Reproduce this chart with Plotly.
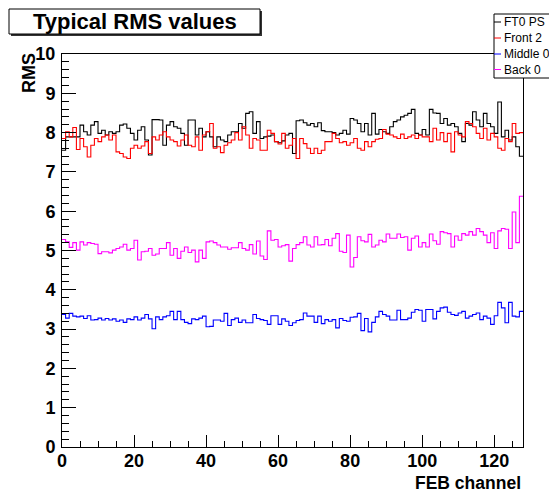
import plotly.graph_objects as go

# ---------------- data ----------------
series_names = ["FT0 PS", "Front 2", "Middle 0", "Back 0"]
series_colors = ["#000000", "#ff0000", "#0000ff", "#ff00ff"]

ft0_ps = [7.55, 7.89, 7.89, 7.89, 7.89, 8.19, 8.02, 7.94, 8.19, 8.28,
          7.98, 8.06, 7.94, 8.02, 7.98, 8.02, 8.19, 8.22, 8.11, 7.98,
          7.81, 8.06, 8.15, 7.81, 7.43, 8.33, 8.33, 8.32, 7.68, 8.19,
          8.28, 8.15, 8.11, 7.98, 7.68, 8.32, 8.32, 7.94, 8.11, 7.89,
          8.02, 7.89, 7.64, 7.89, 7.81, 7.77, 7.94, 8.02, 8.02, 8.23,
          8.11, 8.49, 8.53, 7.98, 8.28, 7.85, 7.89, 7.91, 7.94, 7.77,
          7.74, 7.79, 7.94, 7.98, 7.47, 8.30, 8.32, 8.25, 8.19, 8.23,
          8.15, 8.25, 8.05, 8.02, 8.02, 8.00, 7.94, 7.98, 8.06, 7.96,
          8.36, 8.32, 8.23, 8.02, 8.23, 7.94, 8.49, 7.96, 8.08, 8.02,
          7.98, 8.15, 8.28, 8.32, 8.40, 8.44, 8.49, 8.59, 7.98, 7.94,
          8.08, 7.94, 8.59, 8.50, 8.49, 8.23, 8.36, 8.19, 8.23, 8.15,
          7.98, 7.77, 8.23, 8.19, 8.53, 8.32, 8.15, 8.49, 8.23, 8.15,
          7.98, 8.78, 7.89, 8.06, 7.81, 7.89, 7.64, 7.40]

front_2 = [7.85, 8.02, 7.89, 8.13, 7.57, 7.85, 7.64, 7.38, 7.68, 7.85,
           7.77, 7.89, 7.94, 7.81, 7.94, 7.51, 7.47, 7.38, 7.34, 7.60,
           7.68, 7.60, 7.66, 7.77, 7.47, 7.89, 7.81, 7.94, 8.02, 7.89,
           7.81, 7.77, 7.66, 7.81, 7.94, 7.68, 7.64, 7.89, 7.55, 7.94,
           8.02, 8.23, 7.60, 7.64, 7.49, 7.68, 7.74, 7.81, 8.00, 7.81,
           8.15, 7.94, 7.60, 7.85, 7.81, 7.55, 7.55, 8.06, 7.98, 7.77,
           7.71, 7.98, 7.60, 7.68, 7.85, 7.34, 7.85, 7.72, 7.60, 7.47,
           7.60, 7.47, 7.55, 7.77, 7.77, 7.98, 7.85, 7.74, 7.77, 7.68,
           7.74, 7.85, 7.60, 7.55, 7.77, 7.64, 7.77, 7.83, 7.85, 8.08,
           7.96, 7.94, 7.89, 7.85, 7.96, 7.85, 7.89, 7.94, 7.85, 7.94,
           7.89, 7.89, 7.77, 8.11, 7.81, 8.00, 7.77, 7.98, 7.51, 8.02,
           7.94, 7.89, 8.28, 8.23, 8.15, 7.98, 7.85, 8.11, 7.81, 7.98,
           7.89, 7.60, 7.55, 7.85, 7.77, 8.23, 7.98, 8.00]

middle_0 = [3.37, 3.28, 3.40, 3.33, 3.31, 3.33, 3.27, 3.34, 3.23, 3.24,
            3.28, 3.23, 3.27, 3.23, 3.26, 3.20, 3.23, 3.17, 3.26, 3.24,
            3.31, 3.23, 3.28, 3.37, 3.26, 3.01, 3.31, 3.24, 3.31, 3.34,
            3.45, 3.24, 3.45, 3.24, 3.17, 3.14, 3.26, 3.24, 3.28, 3.33,
            3.06, 3.07, 3.23, 3.23, 3.20, 3.40, 3.09, 3.24, 3.28, 3.17,
            3.23, 3.16, 3.16, 3.37, 3.27, 3.24, 3.22, 3.12, 3.34, 3.34,
            3.12, 3.26, 3.20, 3.09, 3.16, 3.22, 3.24, 3.41, 3.33, 3.33,
            3.17, 3.33, 3.14, 3.24, 3.20, 3.24, 3.03, 3.27, 3.22, 3.20,
            3.30, 3.31, 3.40, 2.96, 3.27, 2.93, 3.17, 3.31, 3.45, 3.37,
            3.33, 3.23, 3.23, 3.48, 3.24, 3.24, 3.28, 3.43, 3.50, 3.48,
            3.20, 3.50, 3.50, 3.26, 3.45, 3.54, 3.56, 3.43, 3.37, 3.35,
            3.41, 3.45, 3.28, 3.33, 3.37, 3.41, 3.24, 3.33, 3.28, 3.12,
            3.34, 3.68, 3.54, 3.16, 3.68, 3.33, 3.31, 3.45]

back_0 = [5.28, 5.22, 5.08, 5.20, 5.01, 5.22, 5.14, 5.20, 5.18, 5.16,
          4.92, 4.97, 4.97, 4.94, 5.01, 5.05, 5.09, 5.16, 5.01, 5.05,
          5.26, 4.76, 4.97, 4.98, 5.05, 4.88, 4.91, 5.05, 5.05, 5.20,
          4.88, 5.05, 4.80, 4.98, 5.09, 4.95, 5.01, 4.71, 5.01, 4.80,
          5.22, 5.24, 5.20, 5.14, 5.09, 5.09, 5.03, 5.07, 5.07, 5.20,
          5.05, 5.01, 5.15, 4.91, 5.24, 4.86, 4.77, 5.50, 5.26, 5.28,
          5.09, 5.12, 5.15, 4.73, 5.05, 5.15, 5.20, 5.35, 5.14, 5.09,
          5.35, 5.14, 5.15, 5.28, 5.12, 5.31, 5.43, 4.98, 4.95, 5.39,
          4.58, 4.82, 5.35, 5.25, 5.22, 5.41, 5.09, 5.14, 5.26, 5.22,
          5.42, 5.31, 5.31, 5.42, 5.33, 5.35, 5.01, 5.31, 5.37, 5.09,
          5.20, 5.09, 5.42, 5.25, 5.16, 5.48, 5.45, 5.43, 5.09, 5.37,
          5.26, 5.43, 5.39, 5.48, 5.39, 5.56, 5.48, 5.39, 5.20, 5.45,
          5.05, 5.50, 5.56, 5.54, 5.05, 5.98, 5.20, 6.38]

series_values = [ft0_ps, front_2, middle_0, back_0]

x_ticks = [0, 20, 40, 60, 80, 100, 120]
y_ticks = list(range(0, 11))

title_text = "Typical RMS values"
x_title = "FEB channel"
y_title = "RMS"

n_bins = 128
bin_edges = list(range(n_bins + 1))

# ---------------- layout geometry (pixels) ----------------
W, H = 549, 493
L, R, T, B = 62, 523, 54, 447


def fx(px):
    return (px - L) / (R - L)


def fy(py):
    return (B - py) / (B - T)


FONT = "Liberation Sans, Arial, Helvetica, sans-serif"

fig = go.Figure()
for name, color, vals in zip(series_names, series_colors, series_values):
    fig.add_trace(go.Scatter(
        x=bin_edges, y=list(vals) + [vals[-1]],
        mode="lines", line=dict(color=color, width=1.1, shape="hv"),
        name=name, showlegend=False, hoverinfo="skip"))

shapes = []
annotations = []

# title pave with shadow
shapes.append(dict(type="rect", xref="paper", yref="paper",
                   x0=fx(11), x1=fx(262), y0=fy(36), y1=fy(11),
                   line=dict(width=0), fillcolor="#333333", layer="above"))
shapes.append(dict(type="rect", xref="paper", yref="paper",
                   x0=fx(9), x1=fx(260), y0=fy(34), y1=fy(9),
                   line=dict(color="black", width=1), fillcolor="white", layer="above"))
annotations.append(dict(text="<b>%s</b>" % title_text, xref="paper", yref="paper",
                        x=fx(134.5), y=fy(22), xanchor="center", yanchor="middle",
                        showarrow=False, font=dict(family=FONT, size=22, color="black")))

# legend box
shapes.append(dict(type="rect", xref="paper", yref="paper",
                   x0=fx(494), x1=fx(570), y0=fy(78), y1=fy(14),
                   line=dict(color="black", width=1), fillcolor="white", layer="above"))
rows = [22, 38, 54, 69.5]
for name, color, row in zip(series_names, series_colors, rows):
    shapes.append(dict(type="line", xref="paper", yref="paper",
                       x0=fx(494), x1=fx(501), y0=fy(row), y1=fy(row),
                       line=dict(color=color, width=1), layer="above"))
    annotations.append(dict(text=name, xref="paper", yref="paper",
                            x=fx(502), y=fy(row), xanchor="left", yanchor="middle",
                            showarrow=False,
                            font=dict(family=FONT, size=12, color="black")))

# axis titles
annotations.append(dict(text="<b>%s</b>" % y_title, xref="paper", yref="paper",
                        x=fx(29), y=fy(51), xanchor="center", yanchor="top",
                        textangle=-90, showarrow=False,
                        font=dict(family=FONT, size=18, color="black")))
annotations.append(dict(text="<b>%s</b>" % x_title, xref="paper", yref="paper",
                        x=fx(523), y=fy(483.5), xanchor="right", yanchor="middle",
                        showarrow=False,
                        font=dict(family=FONT, size=17.5, color="black")))

axis_common = dict(showline=True, linecolor="black", linewidth=1, mirror=True,
                   showgrid=False, zeroline=False, ticks="inside",
                   tickcolor="black", tickwidth=1,
                   tickfont=dict(family=FONT, size=18, color="black", weight="bold"))

fig.update_layout(
    width=W, height=H, autosize=False,
    margin=dict(l=L, r=W - R, t=T, b=H - B, pad=0),
    paper_bgcolor="white", plot_bgcolor="white",
    showlegend=False,
    xaxis=dict(range=[0, n_bins], tickmode="array", tickvals=x_ticks,
               ticktext=[str(v) for v in x_ticks], ticklen=12,
               minor=dict(dtick=5, tick0=0, ticklen=6, ticks="inside",
                          tickcolor="black", showgrid=False),
               ticklabelstandoff=-3, **axis_common),
    yaxis=dict(range=[0, 10], tickmode="array", tickvals=y_ticks,
               ticktext=[str(v) for v in y_ticks], ticklen=14,
               minor=dict(dtick=0.2, tick0=0, ticklen=7, ticks="inside",
                          tickcolor="black", showgrid=False),
               ticklabelstandoff=2, **axis_common),
    shapes=shapes, annotations=annotations,
)

fig.write_html("out.html")
